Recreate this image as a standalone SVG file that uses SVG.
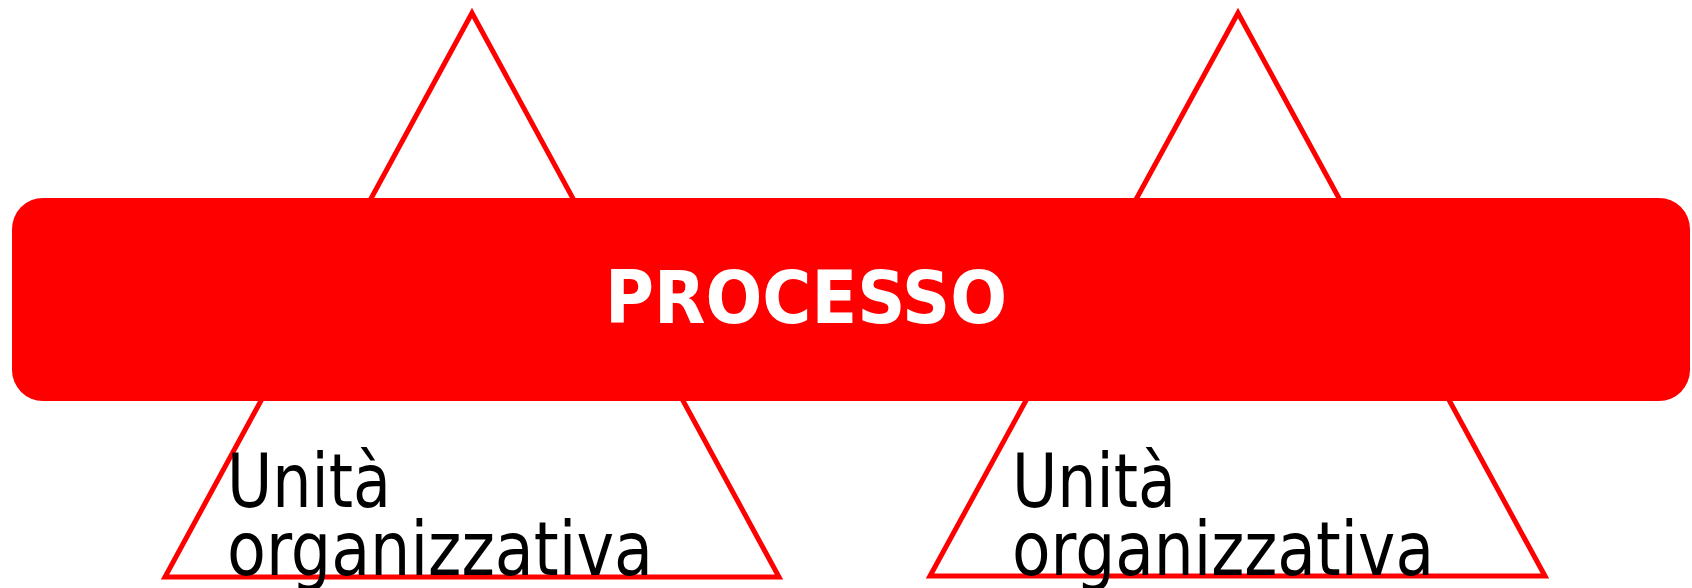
<svg xmlns="http://www.w3.org/2000/svg" width="1692" height="588" viewBox="0 0 1692 588">
  <style>
    .tri { fill: #ffffff; stroke: #ff0000; stroke-width: 5; stroke-linejoin: miter; }
    .bar { fill: #ff0000; }
    .title { font-family: "DejaVu Sans Condensed", "DejaVu Sans", sans-serif; font-stretch: condensed; font-weight: bold; font-size: 73px; fill: #ffffff; }
    .label { font-family: "DejaVu Sans Condensed", "DejaVu Sans", sans-serif; font-stretch: condensed; font-size: 74px; fill: #000000; }
  </style>
  <rect width="1692" height="588" fill="#ffffff"/>
  <g id="unita-sinistra">
    <polygon class="tri" points="472,13 165,577 779,577"/>
  </g>
  <g id="unita-destra">
    <polygon class="tri" points="1238,13 930,576 1545,576"/>
  </g>
  <g id="connectors"></g>
  <g id="processo">
    <rect class="bar" x="12" y="198" width="1678" height="203" rx="31" ry="31"/>
    <text class="title" x="605" y="323" textLength="402" lengthAdjust="spacingAndGlyphs">PROCESSO</text>
  </g>
  <g id="testo-sinistra">
    <text class="label" x="227" y="507" textLength="164" lengthAdjust="spacingAndGlyphs">Unità</text>
    <text class="label" x="227" y="575" textLength="426" lengthAdjust="spacingAndGlyphs">organizzativa</text>
  </g>
  <g id="testo-destra">
    <text class="label" x="1012" y="507" textLength="164" lengthAdjust="spacingAndGlyphs">Unità</text>
    <text class="label" x="1012" y="575" textLength="422" lengthAdjust="spacingAndGlyphs">organizzativa</text>
  </g>
</svg>
